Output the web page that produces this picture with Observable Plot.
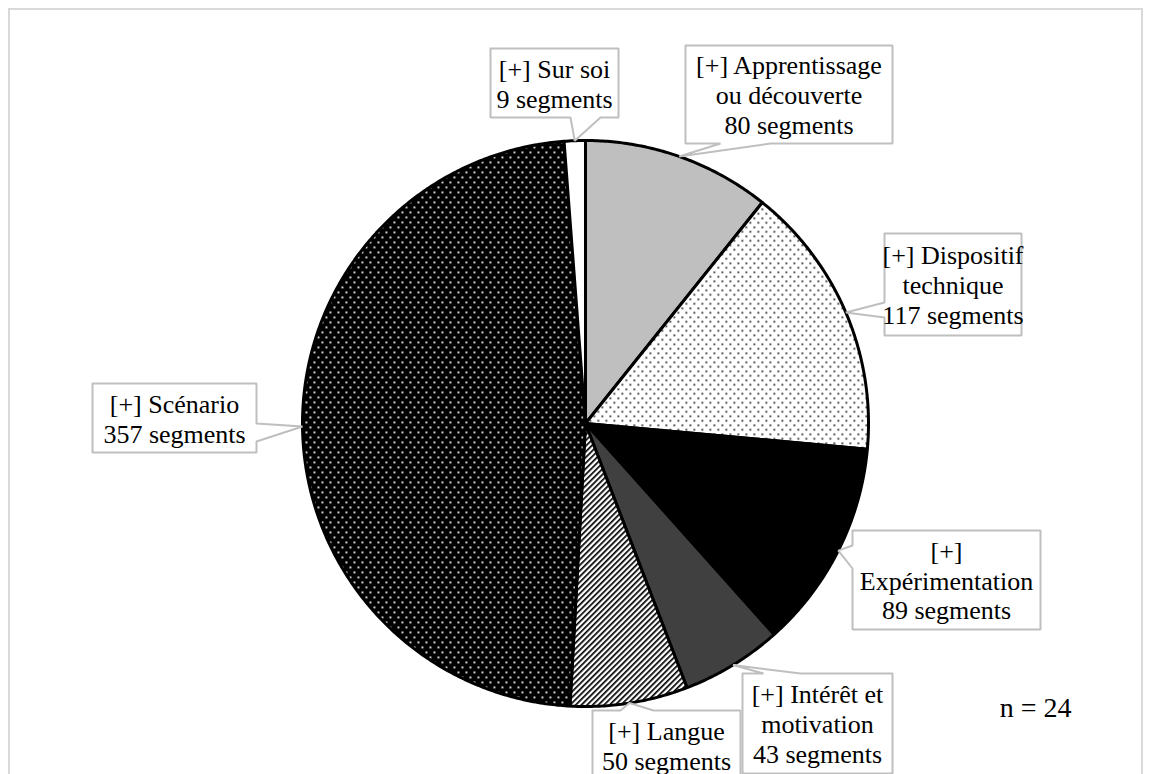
<!DOCTYPE html>
<html>
<head>
<meta charset="utf-8">
<script src="https://cdn.jsdelivr.net/npm/d3@7"></script>
<script src="https://cdn.jsdelivr.net/npm/@observablehq/plot@0.6"></script>
<style>
  html, body { margin: 0; padding: 0; background: #fff; }
  #wrap { position: relative; width: 1152px; height: 774px; overflow: hidden; }
  #frame { position: absolute; left: 8px; top: 8px; width: 1135px; height: 800px; border: 2px solid #d9d9d9; box-sizing: border-box; pointer-events: none; }
  #chart { position: absolute; left: 0; top: 0; }
</style>
</head>
<body>
<div id="wrap"><div id="frame"></div><div id="chart"></div></div>
<script>
// ---- data ----
const categories = [
  "[+] Apprentissage ou découverte",
  "[+] Dispositif technique",
  "[+] Expérimentation",
  "[+] Intérêt et motivation",
  "[+] Langue",
  "[+] Scénario",
  "[+] Sur soi"
];
const labelLines = [
  "[+] Apprentissage\nou découverte",
  "[+] Dispositif\ntechnique",
  "[+]\nExpérimentation",
  "[+] Intérêt et\nmotivation",
  "[+] Langue",
  "[+] Scénario",
  "[+] Sur soi"
];
const segments = [80, 117, 89, 43, 50, 357, 9];
const unitLabel = "segments";
const sampleNote = "n = 24";

// ---- styles ----
const fills = ["#bfbfbf", "url(#pDots)", "#000000", "#404040", "url(#pHatch)", "url(#pWDots)", "#ffffff"];

// ---- layout (pixels) ----
const W = 1152, H = 774;
const cx = 585, cy = 423, R = 283;
// callout boxes: offsets from pie centre in px (y down), pointer side and base range
const boxes = [
  {x0: 100, x1: 307, y0: -378, y1: -280, side: "bottom", b0: 135, b1: 185},
  {x0: 299, x1: 436, y0: -190, y1: -88, side: "left", b0: -121, b1: -106},
  {x0: 267, x1: 455, y0: 107, y1: 206, side: "left", b0: 122, b1: 145},
  {x0: 157, x1: 307, y0: 250, y1: 350, side: "top", b0: 178, b1: 215},
  {x0: 7, x1: 155, y0: 287, y1: 357, side: "top", b0: 35, b1: 68},
  {x0: -493, x1: -329, y0: -40, y1: 29, side: "right", b0: 0, b1: 18},
  {x0: -95, x1: 33, y0: -375, y1: -306, side: "bottom", b0: -15, b1: 15}
];

const arcs = d3.pie().sort(null).value(d => d)(segments);

// slice polygons in data units (1 = radius)
const sliceMarks = arcs.map((a, i) => {
  const pts = [{x: 0, y: 0}];
  const n = Math.max(4, Math.ceil((a.endAngle - a.startAngle) / (Math.PI / 360)));
  for (let k = 0; k <= n; k++) {
    const t = a.startAngle + (a.endAngle - a.startAngle) * k / n;
    pts.push({x: Math.sin(t), y: Math.cos(t)});
  }
  pts.push({x: 0, y: 0});
  return Plot.line(pts, {x: "x", y: "y", fill: fills[i], stroke: "#000", strokeWidth: 3, strokeLinejoin: "miter"});
});

// callouts
const toData = (px, py) => ({x: px / R, y: -py / R});
const calloutMarks = [];
const labelData = [];
arcs.forEach((a, i) => {
  const b = boxes[i];
  const mid = (a.startAngle + a.endAngle) / 2;
  const tip = [R * Math.sin(mid), -R * Math.cos(mid)];
  const TL = [b.x0, b.y0], TR = [b.x1, b.y0], BR = [b.x1, b.y1], BL = [b.x0, b.y1];
  let poly;
  if (b.side === "top") poly = [TL, [b.b0, b.y0], tip, [b.b1, b.y0], TR, BR, BL, TL];
  else if (b.side === "right") poly = [TL, TR, [b.x1, b.b0], tip, [b.x1, b.b1], BR, BL, TL];
  else if (b.side === "bottom") poly = [TL, TR, BR, [b.b1, b.y1], tip, [b.b0, b.y1], BL, TL];
  else poly = [TL, TR, BR, BL, [b.x0, b.b1], tip, [b.x0, b.b0], TL];
  calloutMarks.push(Plot.line(poly.map(p => toData(p[0], p[1])), {
    x: "x", y: "y", fill: "#ffffff", stroke: "#bfbfbf", strokeWidth: 2, strokeLinejoin: "miter"
  }));
  const c = toData((b.x0 + b.x1) / 2, (b.y0 + b.y1) / 2);
  labelData.push({x: c.x, y: c.y, text: `${labelLines[i]}\n${a.data} ${unitLabel}`, category: categories[i]});
});

const plot = Plot.plot({
  width: W,
  height: H,
  marginLeft: cx - R,
  marginRight: W - cx - R,
  marginTop: cy - R,
  marginBottom: H - cy - R,
  x: {domain: [-1, 1], axis: null},
  y: {domain: [-1, 1], axis: null},
  style: {background: "transparent", fontFamily: "'Liberation Serif', 'Times New Roman', serif", overflow: "visible"},
  marks: [
    ...sliceMarks,
    ...calloutMarks,
    Plot.text(labelData, {x: "x", y: "y", text: "text", fontSize: 26, lineHeight: 1.15, fill: "#000", textAnchor: "middle", lineAnchor: "middle"}),
    Plot.text([sampleNote], {frameAnchor: "bottom-right", dx: 203, dy: 2, textAnchor: "end", lineAnchor: "middle", fontSize: 28, fill: "#000"})
  ]
});

// pattern definitions
const ns = "http://www.w3.org/2000/svg";
const defs = document.createElementNS(ns, "defs");
defs.innerHTML = `
  <pattern id="pDots" patternUnits="userSpaceOnUse" width="8" height="9">
    <rect width="8" height="9" fill="#fff"/>
    <rect x="1" y="1" width="1.6" height="1.6" fill="#000"/>
    <rect x="5" y="5.5" width="1.6" height="1.6" fill="#000"/>
  </pattern>
  <pattern id="pWDots" patternUnits="userSpaceOnUse" width="8" height="10">
    <rect width="8" height="10" fill="#000"/>
    <rect x="1" y="1" width="1.8" height="1.8" fill="#fff"/>
    <rect x="5" y="6" width="1.8" height="1.8" fill="#fff"/>
  </pattern>
  <pattern id="pHatch" patternUnits="userSpaceOnUse" width="4" height="4" patternTransform="rotate(45)">
    <rect width="4" height="4" fill="#fff"/>
    <rect x="0" y="0" width="1.7" height="4" fill="#000"/>
  </pattern>`;
plot.insertBefore(defs, plot.firstChild);
document.getElementById("chart").appendChild(plot);
</script>
</body>
</html>
